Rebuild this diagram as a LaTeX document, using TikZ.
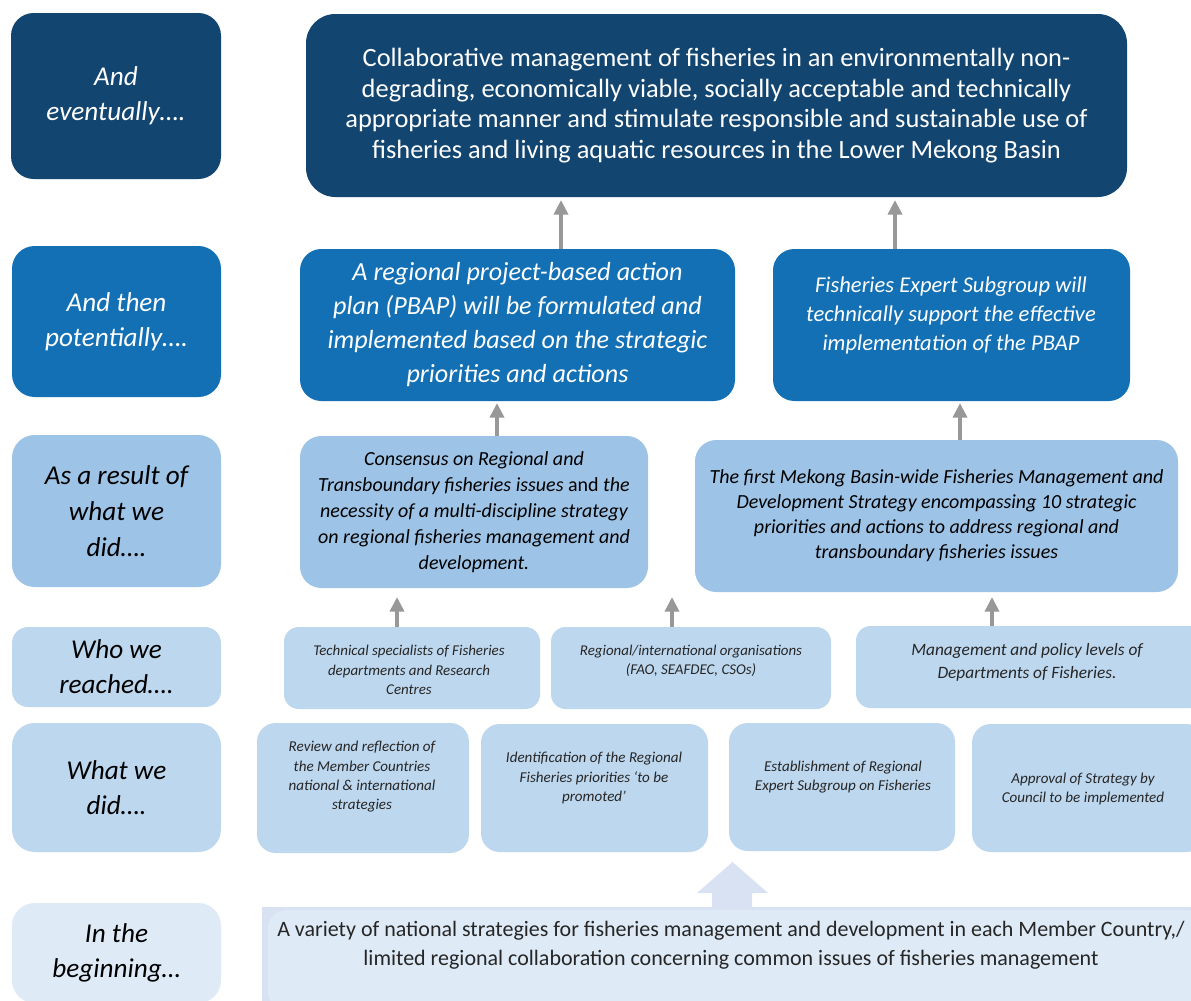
\documentclass[tikz,border=0pt]{standalone}
\usepackage{fontspec}
\setmainfont{Carlito}
\usetikzlibrary{arrows.meta}
\definecolor{cNavy}{HTML}{124570}
\definecolor{cMid}{HTML}{1370B4}
\definecolor{cLight}{HTML}{9DC3E6}
\definecolor{cPale}{HTML}{BDD7EE}
\definecolor{cPaler}{HTML}{DEEBF7}
\definecolor{cBotOut}{HTML}{D9E2F3}
\definecolor{cArrow}{HTML}{989898}
\definecolor{cTxt}{HTML}{262626}
\newcommand\mybox[6]{\node[#1, minimum width={(#4-#2)*0.75pt}, minimum height={(#5-#3)*0.75pt}] (#6) at ({(#2+#4)/2},{(#3+#5)/2})}
\begin{document}
\begin{tikzpicture}[x=0.75pt,y=-0.75pt,
  bx/.style={inner sep=0pt, outer sep=0pt, align=center},
  lab/.style={bx, rounded corners=17pt, font=\fontsize{20.4}{26.25}\selectfont\itshape},
  garrow/.style={draw=cArrow, line width=3.4pt, -{Triangle[width=10.5pt,length=11pt]}},
  txt/.style={inner sep=0pt, align=center, text=cTxt}
]
\useasboundingbox (0,0) rectangle (1191,1000);
\clip (0,0) rectangle (1191,1000);
\fill[white] (0,0) rectangle (1191,1000);

% left labels
\mybox{lab, fill=cNavy, text=white}{11}{13}{221}{179}{l1} {And\\eventually….};
\mybox{lab, fill=cMid, text=white}{12}{246}{221}{397}{l2} {And then\\potentially….};
\mybox{lab, fill=cLight, text=black, font=\fontsize{20.4}{27}\selectfont\itshape}{12}{435}{221}{587}{l3} {As a result of\\what we\\did….};
\mybox{lab, fill=cPale, text=black, rounded corners=12pt}{12}{627}{221}{707}{l4} {Who we\\reached….};
\mybox{lab, fill=cPale, text=black}{12}{723}{221}{852}{l5} {What we\\did….};
\mybox{lab, fill=cPaler, text=black}{12}{903}{221}{1003}{l6} {In the\\beginning…};

% top
\mybox{bx, fill=cNavy, text=white, rounded corners=22pt, font=\fontsize{19.8}{23}\selectfont}{306}{14}{1127}{197}{top}
 {Collaborative management of fisheries in an environmentally non-\\degrading, economically viable, socially acceptable and technically\\appropriate manner and stimulate responsible and sustainable use of\\fisheries and living aquatic resources in the Lower Mekong Basin};

% row 2
\mybox{bx, fill=cMid, text=white, rounded corners=16pt, font=\fontsize{19.6}{25.5}\selectfont\itshape}{300}{249}{735}{401}{r2l}
 {A regional project-based action\\plan (PBAP) will be formulated and\\implemented based on the strategic\\priorities and actions};
\mybox{bx, fill=cMid, rounded corners=16pt}{773}{249}{1130}{401}{r2r} {};
\node[txt, text=white, font=\fontsize{16.9}{21.75}\selectfont\itshape] (t2r) at (951,315)
 {Fisheries Expert Subgroup will\\technically support the effective\\implementation of the PBAP};

% row 3
\mybox{bx, fill=cLight, text=black, rounded corners=16pt, font=\fontsize{15}{19.5}\selectfont\itshape}{300}{436}{648}{588}{r3l}
 {Consensus on Regional and\\Transboundary fisheries issues \textup{and} the\\necessity of a multi-discipline strategy\\on regional fisheries management and\\development.};
\mybox{bx, fill=cLight, text=black, rounded corners=16pt, font=\fontsize{15}{18.75}\selectfont\itshape}{695}{440}{1178}{592}{r3r}
 {The first Mekong Basin-wide Fisheries Management and\\Development Strategy encompassing 10 strategic\\priorities and actions to address regional and\\transboundary fisheries issues};

% row 4
\mybox{bx, fill=cPale, rounded corners=11pt}{284}{627}{540}{709}{r4a} {};
\mybox{bx, fill=cPale, rounded corners=11pt}{551}{627}{831}{709}{r4b} {};
\mybox{bx, fill=cPale, rounded corners=11pt}{856}{626}{1205}{708}{r4c} {};
\node[txt, font=\fontsize{11.2}{14.6}\selectfont\itshape] (t4a) at (409,670)
 {Technical specialists of Fisheries\\departments and Research\\Centres};
\node[txt, font=\fontsize{11.2}{14.6}\selectfont\itshape] (t4b) at (691,661)
 {Regional/international organisations\\(FAO, SEAFDEC, CSOs)};
\node[txt, font=\fontsize{13}{17.25}\selectfont\itshape] (t4c) at (1027,662)
 {Management and policy levels of\\Departments of Fisheries.};

% row 5
\mybox{bx, fill=cPale, rounded corners=14pt}{257}{723}{469}{853}{r5a} {};
\mybox{bx, fill=cPale, rounded corners=14pt}{481}{724}{708}{852}{r5b} {};
\mybox{bx, fill=cPale, rounded corners=14pt}{729}{723}{955}{851}{r5c} {};
\mybox{bx, fill=cPale, rounded corners=14pt}{972}{724}{1205}{852}{r5d} {};
\node[txt, font=\fontsize{11.3}{14.5}\selectfont\itshape] (t5a) at (362,777)
 {Review and reflection of\\the Member Countries\\national \& international\\strategies};
\node[txt, font=\fontsize{11.3}{14.5}\selectfont\itshape] (t5b) at (594,778)
 {Identification of the Regional\\Fisheries priorities ‘to be\\promoted’};
\node[txt, font=\fontsize{11.3}{14.5}\selectfont\itshape] (t5c) at (843,777)
 {Establishment of Regional\\Expert Subgroup on Fisheries};
\node[txt, font=\fontsize{11.3}{14.5}\selectfont\itshape] (t5d) at (1083,789)
 {Approval of Strategy by\\Council to be implemented};

% bottom
\fill[cBotOut] (262,907) rectangle (1205,1010);
\mybox{bx, fill=cPaler, rounded corners=14pt}{268}{910}{1205}{1010}{bot} {};
\node[txt, font=\fontsize{16.5}{21.75}\selectfont] (tb) at (731,945)
 {A variety of national strategies for fisheries management and development in each Member Country,/\\limited regional collaboration concerning common issues of fisheries management};
\fill[cBotOut] (712,907) -- (712,893) -- (697,893) -- (732.5,862) -- (768,893) -- (752,893) -- (752,907) -- cycle;

% arrows
\coordinate (ax1) at (561,0);
\coordinate (ax2) at (895,0);
\coordinate (ax3) at (497,0);
\coordinate (ax4) at (960,0);
\coordinate (ax5) at (397,0);
\coordinate (ax6) at (672,597);
\coordinate (ax7) at (992,0);
\draw[garrow, shorten >=2.25pt] (r2l.north -| ax1) -- (top.south -| ax1);
\draw[garrow, shorten >=2.25pt] (r2r.north -| ax2) -- (top.south -| ax2);
\draw[garrow, shorten >=1.5pt] (r3l.north -| ax3) -- (r2l.south -| ax3);
\draw[garrow, shorten >=1.5pt] (r3r.north -| ax4) -- (r2r.south -| ax4);
\draw[garrow, shorten >=6.75pt] (r4a.north -| ax5) -- (r3l.south -| ax5);
\draw[garrow] (r4b.north -| ax6) -- (ax6);
\draw[garrow, shorten >=3.75pt] (r4c.north -| ax7) -- (r3r.south -| ax7);
\end{tikzpicture}
\end{document}
